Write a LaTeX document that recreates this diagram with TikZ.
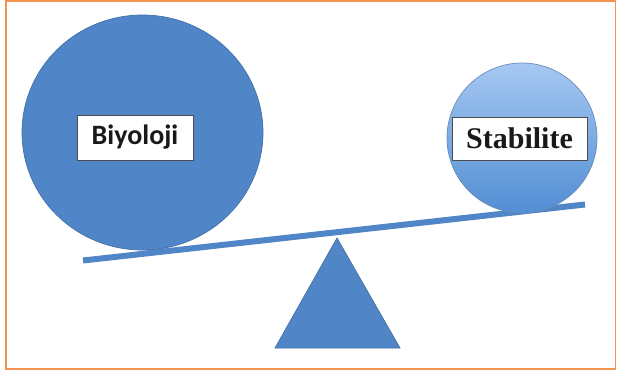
\documentclass[tikz,border=0pt]{standalone}
\usepackage{fontspec}
\setmainfont{Liberation Serif}
\newfontfamily\calib{Carlito}
\usetikzlibrary{shapes.geometric}
\definecolor{frameor}{RGB}{246,146,80}
\definecolor{mblue}{RGB}{80,134,200}
\definecolor{eblue}{RGB}{65,113,165}
\definecolor{ltop}{RGB}{166,200,242}
\definecolor{lbot}{RGB}{82,142,212}
\definecolor{txt}{RGB}{25,25,25}
\tikzset{
  weight/.style={ellipse, inner sep=0pt, draw=eblue, line width=0.7pt},
  labelbox/.style={rectangle, fill=white, draw=black!70, line width=0.8pt, inner sep=0pt, text=txt},
  beamline/.style={draw=mblue, line width=6pt},
  fulcrumfill/.style={draw=eblue, fill=mblue, line width=0.7pt},
}
\begin{document}
\begin{tikzpicture}[x=1pt,y=-1pt]
\useasboundingbox (0,0) rectangle (617,373);
\draw[frameor, line width=1.5pt] (6,0.75) rectangle (615.5,369);
% fulcrum
\coordinate (fl) at (275,348);
\coordinate (fr) at (400,348);
\coordinate (fa) at (337,238);
\path[fulcrumfill] (fl) -- (fr) -- (fa) -- cycle;
% beam
\coordinate (bl) at (83,260.5);
\coordinate (br) at (585,204.5);
\draw[beamline] (bl) -- (br);
% big weight
\node[weight, fill=mblue, minimum width=241, minimum height=235] (big) at (142.5,132.5) {};
% small weight
\node[weight, top color=ltop, bottom color=lbot, draw=eblue!80, minimum width=150, minimum height=150] (small) at (522,138) {};
% labels
\node[labelbox, minimum width=116, minimum height=45] (bio) at (135,137.5) {\calib\bfseries\fontsize{28}{30}\selectfont Biyoloji};
\node[labelbox, minimum width=135, minimum height=43] (stab) at (519.5,138.5) {\bfseries\fontsize{30}{32}\selectfont Stabilite};
\end{tikzpicture}
\end{document}
